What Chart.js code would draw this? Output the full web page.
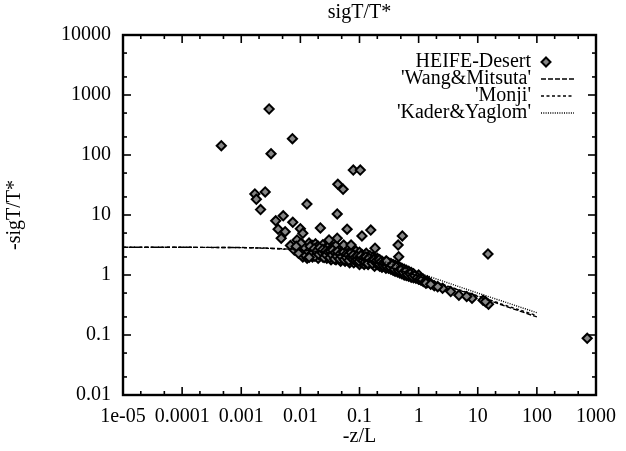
<!DOCTYPE html>
<html>
<head>
<meta charset="utf-8">
<script src="https://cdn.jsdelivr.net/npm/chart.js@4.4.1/dist/chart.umd.min.js"></script>
<style>
  html, body { margin: 0; padding: 0; background: #fff; }
</style>
</head>
<body>
<canvas id="graph" width="626" height="451"></canvas>
<script>
// -------------------------
// AXES
// -------------------------
const xTickValues = [1e-5, 1e-4, 1e-3, 1e-2, 0.1, 1, 10, 100, 1000];
const xTickLabels = ["1e-05", "0.0001", "0.001", "0.01", "0.1", "1", "10", "100", "1000"];
const yTickValues = [0.01, 0.1, 1, 10, 100, 1000, 10000];
const yTickLabels = ["0.01", "0.1", "1", "10", "100", "1000", "10000"];

const seriesNames = ["HEIFE-Desert", "'Wang&Mitsuta'", "'Monji'", "'Kader&Yaglom'"];

// -------------------------
// HEIFE DATA  [-z/L, -sigT/T*]
// -------------------------
const heifeOutliers = [
  [0.00046, 143], [0.00296, 584], [0.00319, 105], [0.00734, 187],
  [0.0785, 56], [0.103, 56], [0.043, 32.5], [0.0528, 26.8],
  [0.0017, 22.4], [0.0018, 18.3], [0.00254, 24.2], [0.00212, 12.3],
  [0.0129, 15.2], [0.042, 10.4], [0.00383, 8.0], [0.00513, 9.7],
  [0.00744, 7.55], [0.0218, 6.07], [0.0617, 5.8], [0.155, 5.6],
  [0.0042, 5.8], [0.01, 5.9], [0.00553, 5.27], [0.00474, 4.09],
  [0.011, 4.95], [0.0088, 3.83], [0.0102, 3.37], [0.0141, 1.97],
  [0.11, 4.47], [0.45, 3.16], [0.53, 4.47], [0.46, 2.02],
  [0.042, 4.1], [0.0305, 3.83], [0.054, 3.16], [0.072, 3.16],
  [0.183, 2.79], [0.286, 1.71], [14.9, 2.24], [710, 0.088],
  [0.0068, 3.1], [0.0079, 2.6], [0.0093, 2.3], [0.0085, 3.0]
];

const heifeBand = [
  [0.010, 2.9], [0.010, 2.3], [0.011, 3.2], [0.011, 2.5], [0.011, 2.0],
  [0.012, 2.7], [0.012, 2.2], [0.013, 3.0], [0.013, 2.4], [0.013, 1.9],
  [0.014, 2.6], [0.014, 3.4], [0.015, 2.8], [0.015, 2.2], [0.016, 2.5],
  [0.016, 3.1], [0.016, 2.0], [0.018, 2.7], [0.018, 2.3], [0.018, 3.3],
  [0.019, 2.1], [0.019, 2.9], [0.020, 2.6], [0.020, 2.4], [0.020, 3.0],
  [0.020, 1.9], [0.022, 2.8], [0.022, 2.2], [0.024, 2.5], [0.024, 3.2],
  [0.024, 2.0], [0.026, 2.7], [0.026, 2.3], [0.028, 2.4], [0.028, 2.9],
  [0.028, 1.9], [0.030, 2.6], [0.030, 2.1], [0.030, 3.0], [0.033, 2.3],
  [0.033, 2.7], [0.033, 1.8], [0.036, 2.5], [0.036, 2.0], [0.036, 2.9],
  [0.040, 2.2], [0.040, 2.6], [0.040, 1.8], [0.040, 3.1], [0.044, 2.4],
  [0.044, 2.0], [0.048, 2.7], [0.048, 2.2], [0.048, 1.7], [0.052, 2.3],
  [0.052, 1.9], [0.052, 2.6], [0.057, 2.1], [0.057, 2.5], [0.057, 1.7],
  [0.062, 2.3], [0.062, 1.9], [0.062, 2.8], [0.068, 2.0], [0.068, 2.4],
  [0.068, 1.6], [0.074, 2.2], [0.074, 1.8], [0.074, 2.6], [0.080, 2.0],
  [0.080, 1.6], [0.080, 2.3], [0.087, 2.1], [0.087, 1.7], [0.087, 2.5],
  [0.095, 1.9], [0.095, 2.2], [0.095, 1.6], [0.10, 2.0], [0.10, 1.8],
  [0.10, 2.4], [0.10, 1.5], [0.11, 1.9], [0.11, 1.6], [0.11, 2.2],
  [0.12, 1.8], [0.12, 2.1], [0.12, 1.5], [0.13, 1.9], [0.13, 1.6],
  [0.13, 2.3], [0.14, 1.7], [0.14, 2.0], [0.14, 1.5], [0.15, 1.8],
  [0.15, 1.6], [0.15, 2.1], [0.17, 1.7], [0.17, 1.5], [0.17, 2.0],
  [0.18, 1.6], [0.18, 1.9], [0.18, 1.4], [0.20, 1.7], [0.20, 1.5],
  [0.20, 1.9], [0.22, 1.6], [0.22, 1.4], [0.22, 1.8], [0.24, 1.5],
  [0.24, 1.7], [0.24, 1.35], [0.26, 1.6], [0.26, 1.4], [0.28, 1.5],
  [0.28, 1.3], [0.28, 1.7], [0.31, 1.45], [0.31, 1.3], [0.31, 1.6],
  [0.34, 1.4], [0.34, 1.25], [0.34, 1.55], [0.37, 1.35], [0.37, 1.2],
  [0.37, 1.5], [0.40, 1.3], [0.40, 1.15], [0.40, 1.45], [0.44, 1.25],
  [0.44, 1.4], [0.44, 1.12], [0.48, 1.2], [0.48, 1.35], [0.48, 1.08],
  [0.52, 1.15], [0.52, 1.3], [0.52, 1.05], [0.57, 1.12], [0.57, 1.0],
  [0.57, 1.25], [0.62, 1.1], [0.62, 0.98], [0.62, 1.2], [0.68, 1.05],
  [0.68, 0.95], [0.68, 1.15], [0.75, 1.0], [0.75, 0.92], [0.75, 1.1],
  [0.82, 0.98], [0.82, 0.9], [0.82, 1.05], [0.90, 0.95], [0.90, 0.88],
  [1.0, 0.92], [1.0, 0.85], [1.0, 1.0], [1.1, 0.88], [1.1, 0.82],
  [1.2, 0.85], [1.2, 0.78], [1.4, 0.8], [1.4, 0.75], [1.6, 0.72]
];

const heifeBandFill = [
  [0.0105, 2.6], [0.0118, 2.85], [0.0123, 2.1], [0.0137, 2.45], [0.0146, 3.0],
  [0.0158, 2.3], [0.0171, 2.75], [0.0176, 2.05], [0.0188, 2.5], [0.0205, 2.2],
  [0.0212, 2.85], [0.0233, 2.35], [0.0238, 2.65], [0.0252, 1.95], [0.0268, 2.55],
  [0.0275, 2.15], [0.0295, 2.45], [0.0315, 1.95], [0.0322, 2.5], [0.0345, 2.15],
  [0.0352, 2.6], [0.0378, 1.85], [0.0385, 2.35], [0.0415, 2.05], [0.0425, 2.45],
  [0.046, 1.85], [0.047, 2.25], [0.050, 2.05], [0.054, 2.4], [0.055, 1.8],
  [0.059, 2.2], [0.060, 1.95], [0.065, 2.15], [0.066, 1.75], [0.071, 2.0],
  [0.072, 2.35], [0.077, 1.85], [0.078, 2.15], [0.084, 1.95], [0.085, 1.75],
  [0.091, 2.05], [0.092, 1.8], [0.098, 1.7], [0.105, 1.85], [0.106, 2.1],
  [0.115, 1.75], [0.118, 1.95], [0.125, 1.65], [0.128, 2.0], [0.135, 1.8],
  [0.138, 1.55], [0.145, 1.9], [0.16, 1.75], [0.165, 1.55], [0.175, 1.8],
  [0.19, 1.6], [0.195, 1.75], [0.21, 1.55], [0.215, 1.8], [0.23, 1.65],
  [0.25, 1.45], [0.255, 1.6], [0.27, 1.55], [0.29, 1.4], [0.30, 1.55],
  [0.33, 1.35], [0.355, 1.45], [0.39, 1.25], [0.42, 1.35], [0.46, 1.18],
  [0.50, 1.22], [0.55, 1.1], [0.60, 1.15], [0.65, 1.02], [0.72, 1.05],
  [0.78, 0.95], [0.86, 0.97], [0.95, 0.9], [1.05, 0.86], [1.15, 0.84],
  [1.3, 0.78]
];

const heifeTail = [
  [1.33, 0.73], [1.84, 0.66], [2.54, 0.6], [3.49, 0.53], [4.8, 0.46],
  [8.0, 0.41], [12.3, 0.38], [15.2, 0.325], [13.5, 0.36], [6.5, 0.44],
  [2.1, 0.64], [1.6, 0.7]
];

// -------------------------
// MODEL CURVES
// -------------------------
const wangZL = [1e-5, 1e-4, 1e-3, 0.003, 0.01, 0.03, 0.1, 0.3, 1, 3, 10, 30, 100];
const wangSig = [2.9, 2.9, 2.87, 2.8, 2.65, 2.35, 1.9, 1.4, 0.95, 0.65, 0.44, 0.3, 0.2];

const monjiZL = [1e-5, 1e-4, 1e-3, 0.003, 0.01, 0.03, 0.1, 0.3, 1, 3, 10, 30, 100];
const monjiSig = [2.9, 2.9, 2.86, 2.78, 2.6, 2.3, 1.86, 1.38, 0.95, 0.66, 0.45, 0.31, 0.21];

const kaderZL = [0.05, 0.1, 0.3, 1, 3, 10, 30, 100];
const kaderSig = [2.9, 2.3, 1.6, 1.08, 0.75, 0.5, 0.35, 0.235];

// -------------------------
// HELPERS
// -------------------------
const FONT = '"Liberation Serif", "Times New Roman", serif';
const toPts = pairs => pairs.map(p => ({ x: p[0], y: p[1] }));
const zipPts = (xs, ys) => xs.map((x, i) => ({ x, y: ys[i] }));

Chart.defaults.font.family = FONT;
Chart.defaults.font.size = 20;
Chart.defaults.color = "#000";

// inward ticks + frame, gnuplot style
const frameTicks = {
  id: "frameTicks",
  afterDatasetsDraw(chart) {
    const { ctx, chartArea: a, scales: { x, y } } = chart;
    ctx.save();
    ctx.strokeStyle = "#000";
    ctx.lineWidth = 1.6;
    const seg = (x1, y1, x2, y2) => {
      ctx.beginPath(); ctx.moveTo(x1, y1); ctx.lineTo(x2, y2); ctx.stroke();
    };
    for (const v of xTickValues) {
      for (const m of [1, 2, 5]) {
        const val = v * m;
        if (val > x.max * 1.0001) continue;
        const px = x.getPixelForValue(val);
        const len = m === 1 ? 8 : 4;
        seg(px, a.bottom, px, a.bottom - len);
        seg(px, a.top, px, a.top + len);
      }
    }
    for (const v of yTickValues) {
      for (const m of [1, 2, 5]) {
        const val = v * m;
        if (val > y.max * 1.0001) continue;
        const py = y.getPixelForValue(val);
        const len = m === 1 ? 8 : 4;
        seg(a.left, py, a.left + len, py);
        seg(a.right, py, a.right - len, py);
      }
    }
    ctx.lineWidth = 2.4;
    ctx.strokeRect(a.left, a.top, a.right - a.left, a.bottom - a.top);
    ctx.restore();
  }
};

// key in the top right corner: text right-aligned, sample to its right
const keyBox = {
  id: "keyBox",
  afterDraw(chart) {
    const { ctx, chartArea: a } = chart;
    const textRight = a.right - 65;
    const lineFrom = a.right - 55;
    const lineTo = a.right - 22;
    ctx.save();
    ctx.font = "20px " + FONT;
    ctx.fillStyle = "#000";
    ctx.textAlign = "right";
    ctx.textBaseline = "middle";
    chart.data.datasets.forEach((ds, i) => {
      const yy = a.top + 27 + i * 17;
      ctx.fillText(ds.label, textRight, yy);
      if (!ds.showLine) {
        const cx = lineFrom + 5;
        ctx.beginPath();
        ctx.moveTo(cx, yy - 4.5); ctx.lineTo(cx + 4.5, yy);
        ctx.lineTo(cx, yy + 4.5); ctx.lineTo(cx - 4.5, yy);
        ctx.closePath();
        ctx.fillStyle = ds.backgroundColor;
        ctx.fill();
        ctx.lineWidth = ds.borderWidth;
        ctx.strokeStyle = ds.borderColor;
        ctx.stroke();
        ctx.fillStyle = "#000";
      } else {
        ctx.setLineDash(ds.borderDash);
        ctx.lineWidth = ds.borderWidth;
        ctx.strokeStyle = ds.borderColor;
        ctx.beginPath(); ctx.moveTo(lineFrom, yy); ctx.lineTo(lineTo, yy); ctx.stroke();
        ctx.setLineDash([]);
      }
    });
    ctx.restore();
  }
};

// -------------------------
// CHART
// -------------------------
const ctx = document.getElementById("graph").getContext("2d");

new Chart(ctx, {
  type: "scatter",
  data: {
    datasets: [
      {
        label: seriesNames[0],
        data: toPts(heifeBand.concat(heifeBandFill, heifeOutliers, heifeTail)),
        showLine: false,
        pointStyle: "rectRot",
        pointRadius: 4.6,
        borderWidth: 2,
        borderColor: "#000",
        backgroundColor: "#858585",
        order: 2
      },
      {
        label: seriesNames[1],
        data: zipPts(wangZL, wangSig),
        showLine: true,
        pointRadius: 0,
        borderColor: "#000",
        borderWidth: 1.4,
        borderDash: [5, 2],
        order: 1
      },
      {
        label: seriesNames[2],
        data: zipPts(monjiZL, monjiSig),
        showLine: true,
        pointRadius: 0,
        borderColor: "#000",
        borderWidth: 1.4,
        borderDash: [3, 2.5],
        order: 1
      },
      {
        label: seriesNames[3],
        data: zipPts(kaderZL, kaderSig),
        showLine: true,
        pointRadius: 0,
        borderColor: "#000",
        borderWidth: 1.4,
        borderDash: [1, 1.3],
        order: 1
      }
    ]
  },
  options: {
    responsive: false,
    animation: false,
    layout: { padding: { left: 0, right: 24, top: 0, bottom: 0 } },
    plugins: {
      legend: { display: false },
      tooltip: { enabled: false },
      title: {
        display: true,
        text: "sigT/T*",
        fullSize: false,
        font: { size: 20, weight: "normal" },
        color: "#000",
        padding: { top: 1, bottom: 10 }
      }
    },
    scales: {
      x: {
        type: "logarithmic",
        min: 1e-5,
        max: 1000,
        grid: { display: false, drawTicks: false },
        border: { display: false },
        afterBuildTicks: s => { s.ticks = xTickValues.map(v => ({ value: v })); },
        afterFit: s => { s.height = 56; },
        ticks: {
          autoSkip: false,
          maxRotation: 0,
          padding: 10,
          callback: (v, i) => xTickLabels[i]
        },
        title: { display: true, text: "-z/L", padding: { top: 0, bottom: 2 } }
      },
      y: {
        type: "logarithmic",
        min: 0.01,
        max: 10000,
        grid: { display: false, drawTicks: false },
        border: { display: false },
        afterBuildTicks: s => { s.ticks = yTickValues.map(v => ({ value: v })); },
        afterFit: s => { s.width = 123; },
        ticks: {
          autoSkip: false,
          padding: 12,
          callback: (v, i) => yTickLabels[i]
        },
        title: { display: true, text: "-sigT/T*", padding: { top: 3, bottom: 0 } }
      }
    }
  },
  plugins: [frameTicks, keyBox]
});
</script>
</body>
</html>
